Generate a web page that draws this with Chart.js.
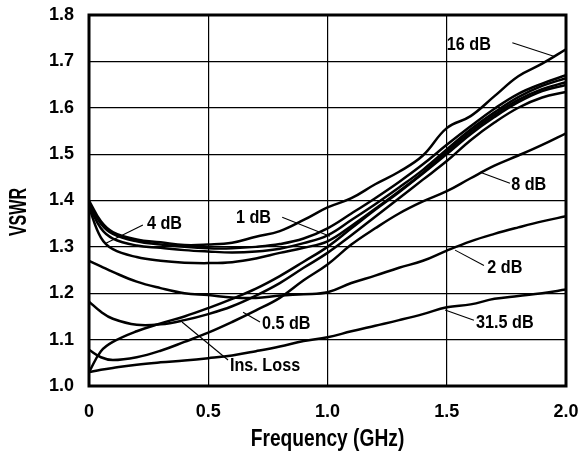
<!DOCTYPE html>
<html>
<head>
<meta charset="utf-8">
<script src="https://cdn.jsdelivr.net/npm/chart.js@4/dist/chart.umd.min.js"></script>
<style>
  html, body { margin: 0; padding: 0; background: #fff; }
  #wrap { width: 579px; height: 460px; }
</style>
</head>
<body>
<div id="wrap"><canvas id="c"></canvas></div>
<script>
// frequency points (GHz)
const freq = [0, 0.05, 0.1, 0.2, 0.3, 0.4, 0.5, 0.6, 0.7, 0.8, 0.9, 1.0,
              1.1, 1.2, 1.3, 1.4, 1.5, 1.6, 1.7, 1.8, 1.9, 2.0];

// VSWR per attenuation state
const vswr16 = [1.400, 1.355, 1.332, 1.316, 1.310, 1.304, 1.305, 1.309, 1.322, 1.334, 1.358, 1.385,
                1.405, 1.435, 1.462, 1.497, 1.556, 1.582, 1.625, 1.668, 1.695, 1.726];
const vswr4 = [1.395, 1.350, 1.328, 1.312, 1.305, 1.300, 1.297, 1.297, 1.300, 1.306, 1.318, 1.340,
               1.372, 1.405, 1.440, 1.478, 1.520, 1.560, 1.598, 1.630, 1.652, 1.670];
const vswr1 = [1.390, 1.340, 1.318, 1.303, 1.298, 1.293, 1.290, 1.288, 1.290, 1.296, 1.308, 1.325,
               1.358, 1.392, 1.428, 1.466, 1.510, 1.553, 1.590, 1.623, 1.647, 1.664];
const vswrRef = [1.385, 1.320, 1.295, 1.278, 1.270, 1.266, 1.265, 1.267, 1.275, 1.287, 1.298, 1.312,
                 1.345, 1.382, 1.420, 1.460, 1.505, 1.548, 1.585, 1.617, 1.640, 1.655];
const vswrIns = [1.030, 1.075, 1.095, 1.118, 1.135, 1.150, 1.168, 1.188, 1.210, 1.237, 1.268, 1.300,
                 1.340, 1.380, 1.418, 1.458, 1.500, 1.543, 1.580, 1.612, 1.636, 1.649];
const vswr05 = [1.182, 1.160, 1.145, 1.132, 1.133, 1.142, 1.155, 1.172, 1.195, 1.222, 1.255, 1.287,
                1.325, 1.365, 1.405, 1.445, 1.485, 1.530, 1.568, 1.600, 1.622, 1.634];
const vswr8 = [1.078, 1.062, 1.056, 1.062, 1.076, 1.095, 1.115, 1.138, 1.163, 1.190, 1.228, 1.262,
               1.305, 1.340, 1.372, 1.398, 1.420, 1.448, 1.475, 1.497, 1.520, 1.545];
const vswr2 = [1.270, 1.258, 1.246, 1.225, 1.211, 1.200, 1.196, 1.191, 1.190, 1.195, 1.198, 1.202,
               1.222, 1.238, 1.255, 1.270, 1.292, 1.312, 1.328, 1.342, 1.355, 1.366];
const vswr315 = [1.030, 1.035, 1.039, 1.046, 1.051, 1.055, 1.060, 1.066, 1.075, 1.085, 1.097, 1.105,
                 1.118, 1.130, 1.142, 1.155, 1.170, 1.176, 1.188, 1.194, 1.200, 1.208];

const xTicks = [0, 0.5, 1.0, 1.5, 2.0];
const xTickLabels = ['0', '0.5', '1.0', '1.5', '2.0'];
const yTickLabels = ['1.0', '1.1', '1.2', '1.3', '1.4', '1.5', '1.6', '1.7', '1.8'];
const xTitle = 'Frequency (GHz)';
const yTitle = 'VSWR';

// callouts: text, text anchor (data units), leader from -> to (data units)
const callouts = [
  { text: '16 dB',    at: [1.50, 1.735], from: [1.775, 1.740], to: [1.955, 1.710] },
  { text: '4 dB',     at: [0.243, 1.349], from: [0.226, 1.347], to: [0.071, 1.308] },
  { text: '1 dB',     at: [0.616, 1.362], from: [0.810, 1.364], to: [1.010, 1.323] },
  { text: '8 dB',     at: [1.770, 1.433], from: [1.765, 1.437], to: [1.640, 1.461] },
  { text: '0.5 dB',   at: [0.725, 1.134], from: [0.717, 1.138], to: [0.646, 1.159] },
  { text: '2 dB',     at: [1.670, 1.254], from: [1.656, 1.260], to: [1.535, 1.293] },
  { text: '31.5 dB',  at: [1.623, 1.136], from: [1.614, 1.142], to: [1.493, 1.164] },
  { text: 'Ins. Loss', at: [0.591, 1.043], from: [0.583, 1.056], to: [0.390, 1.138] }
];

const FONT = '"Liberation Sans", Arial, sans-serif';

const series = [vswr16, vswr4, vswr1, vswrRef, vswrIns, vswr05, vswr8, vswr2, vswr315];
const names = ['16 dB', '4 dB', '1 dB', 'ref', 'Ins. Loss', '0.5 dB', '8 dB', '2 dB', '31.5 dB'];

const datasets = series.map((vals, i) => ({
  label: names[i],
  data: vals.map((v, j) => ({ x: freq[j], y: v })),
  borderColor: '#000',
  borderWidth: 2.5,
  pointRadius: 0,
  tension: 0.4,
  fill: false
}));

// condensed-looking text: squeeze horizontally
function squeezedText(ctx, text, px, py, sx, rot, align) {
  ctx.save();
  ctx.translate(px, py);
  if (rot) ctx.rotate(rot);
  ctx.scale(sx, 1);
  ctx.textAlign = align || 'center';
  ctx.textBaseline = 'middle';
  ctx.fillText(text, 0, 0);
  ctx.restore();
}

/* frame, callouts and axis titles */
const overlay = {
  id: 'overlay',
  afterDatasetsDraw(chart) {
    const { ctx, chartArea: a, scales: { x, y } } = chart;
    ctx.save();
    ctx.strokeStyle = '#000';
    ctx.lineWidth = 3;
    ctx.strokeRect(a.left, a.top, a.right - a.left, a.bottom - a.top);

    ctx.lineWidth = 1.1;
    ctx.fillStyle = '#000';
    ctx.font = 'bold 18px ' + FONT;
    callouts.forEach(c => {
      ctx.beginPath();
      ctx.moveTo(x.getPixelForValue(c.from[0]), y.getPixelForValue(c.from[1]));
      ctx.lineTo(x.getPixelForValue(c.to[0]), y.getPixelForValue(c.to[1]));
      ctx.stroke();
      squeezedText(ctx, c.text, x.getPixelForValue(c.at[0]), y.getPixelForValue(c.at[1]), 0.9, 0, 'left');
    });

    ctx.font = 'bold 24px ' + FONT;
    squeezedText(ctx, xTitle, (a.left + a.right) / 2, 439, 0.8, 0);
    squeezedText(ctx, yTitle, 19, 212, 0.67, -Math.PI / 2);
    ctx.restore();
  }
};

new Chart(document.getElementById('c'), {
  type: 'line',
  data: { datasets },
  plugins: [overlay],
  options: {
    responsive: true,
    maintainAspectRatio: false,
    animation: false,
    layout: { padding: { top: 15, right: 13, left: 0, bottom: 0 } },
    plugins: { legend: { display: false }, tooltip: { enabled: false } },
    scales: {
      x: {
        type: 'linear',
        min: 0, max: 2.0,
        afterBuildTicks: s => { s.ticks = xTicks.map(v => ({ value: v })); },
        afterFit: s => { s.height = 74; s.paddingRight = 0; s.paddingLeft = 0; },
        grid: { color: '#000', lineWidth: 1.2, drawTicks: false },
        border: { display: false },
        ticks: {
          padding: 15,
          color: '#000',
          font: { family: FONT, size: 18, weight: 'bold' },
          callback: (v, i) => xTickLabels[i]
        }
      },
      y: {
        min: 1.0, max: 1.8,
        ticks: {
          stepSize: 0.1,
          padding: 15,
          color: '#000',
          font: { family: FONT, size: 18, weight: 'bold' },
          callback: (v, i) => yTickLabels[i]
        },
        afterFit: s => { s.width = 89; s.paddingTop = 0; s.paddingBottom = 0; },
        grid: { color: '#000', lineWidth: 1.2, drawTicks: false },
        border: { display: false }
      }
    }
  }
});
</script>
</body>
</html>
